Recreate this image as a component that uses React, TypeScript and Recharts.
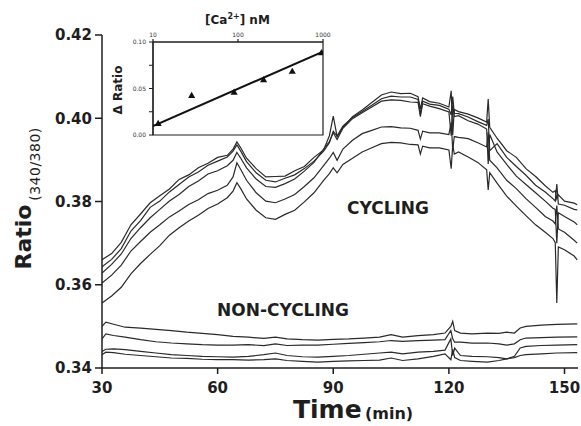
import React from 'react';
import { LineChart, Line, XAxis, YAxis, ComposedChart, Scatter, ZAxis, ReferenceArea } from 'recharts';

// ---------- main chart data ----------
const cycTimes = [30, 32.5, 35, 37.5, 40, 42.5, 45, 47.5, 50, 52.5, 55, 57.5, 60, 62.5, 64, 65, 66, 67.5, 70, 72.5, 75, 77.5, 80, 82.5, 85, 87.5, 89, 90, 91, 92.5, 95, 97.5, 100, 102.5, 105, 107.5, 110, 112, 112.6, 113.2, 115, 117.5, 120, 120.6, 121, 121.4, 122.5, 125, 127.5, 129.8, 130.2, 130.6, 132.5, 135, 137.5, 140, 142.5, 145, 147, 147.6, 148, 148.4, 150, 152.5, 153.3];

const cycA = [.3660, .3675, .3702, .3744, .3770, .3797, .3814, .3830, .3853, .3864, .3881, .3892, .3906, .3911, .3926, .3943, .3929, .3904, .3879, .3859, .3860, .3861, .3874, .3884, .3906, .3924, .3958, .4005, .3956, .3978, .4004, .4020, .4038, .4056, .4063, .4059, .4060, .4052, .4022, .4049, .4040, .4036, .4027, .4066, .3960, .4021, .4016, .4010, .4001, .3991, .4046, .3978, .3952, .3922, .3906, .3879, .3860, .3838, .3822, .3826, .3806, .3816, .3801, .3796, .3792];
const cycB = [.3643, .3661, .3687, .3729, .3754, .3786, .3801, .3823, .3841, .3859, .3871, .3887, .3897, .3907, .3921, .3936, .3921, .3896, .3869, .3851, .3847, .3856, .3864, .3879, .3897, .3921, .3941, .3969, .3957, .3981, .4002, .4016, .4031, .4047, .4053, .4051, .4051, .4045, .4010, .4041, .4034, .4031, .4022, .4008, .4052, .4012, .4011, .4003, .3992, .3983, .3998, .3922, .3939, .3906, .3884, .3863, .3839, .3823, .3807, .3801, .3842, .3794, .3791, .3781, .3780];
const cycC = [.3628, .3649, .3674, .3711, .3737, .3761, .3781, .3801, .3817, .3836, .3849, .3866, .3874, .3886, .3899, .3918, .3904, .3881, .3854, .3836, .3834, .3843, .3854, .3873, .3894, .3926, .3944, .3965, .3949, .3976, .3999, .4013, .4027, .4041, .4044, .4043, .4039, .4038, .4004, .4035, .4029, .4023, .4015, .3958, .4031, .4004, .4006, .3994, .3986, .3974, .3890, .3961, .3919, .3889, .3861, .3841, .3821, .3801, .3784, .3781, .3700, .3773, .3764, .3751, .3744];
const cycD = [.3604, .3623, .3647, .3681, .3704, .3726, .3744, .3763, .3777, .3793, .3804, .3819, .3827, .3839, .3859, .3893, .3877, .3851, .3821, .3801, .3797, .3806, .3817, .3836, .3857, .3886, .3904, .3918, .3899, .3926, .3947, .3963, .3971, .3979, .3980, .3977, .3976, .3971, .3950, .3969, .3965, .3965, .3961, .3990, .3924, .3956, .3954, .3951, .3941, .3931, .3966, .3899, .3881, .3851, .3831, .3807, .3786, .3764, .3753, .3746, .3790, .3734, .3726, .3707, .3700];
const cycE = [.3556, .3573, .3594, .3626, .3651, .3673, .3694, .3719, .3737, .3753, .3767, .3783, .3794, .3809, .3825, .3845, .3831, .3806, .3779, .3761, .3757, .3769, .3779, .3799, .3821, .3851, .3867, .3881, .3869, .3889, .3904, .3919, .3929, .3939, .3942, .3941, .3937, .3936, .3914, .3933, .3929, .3929, .3924, .3879, .3936, .3914, .3919, .3907, .3894, .3876, .3828, .3869, .3844, .3813, .3789, .3766, .3744, .3726, .3711, .3701, .3556, .3691, .3684, .3669, .3660];

const ncTimes = [30, 31, 33, 36, 40, 44, 48, 52, 56, 60, 64, 68, 72, 75, 78, 82, 86, 90, 94, 98, 102, 105, 108, 112, 116, 119, 120.5, 121, 121.5, 123, 126, 130, 133, 135, 137, 138.5, 140, 144, 148, 153.3];
const nc1 = [.3500, .3510, .3505, .3498, .3496, .3493, .3490, .3486, .3483, .3480, .3476, .3474, .3471, .3474, .3470, .3468, .3467, .3469, .3470, .3472, .3474, .3480, .3474, .3478, .3480, .3484, .3500, .3512, .3490, .3484, .3482, .3484, .3483, .3486, .3484, .3496, .3500, .3503, .3505, .3506];
const nc2 = [.3470, .3482, .3478, .3474, .3468, .3463, .3460, .3458, .3456, .3455, .3455, .3456, .3454, .3458, .3454, .3455, .3455, .3457, .3459, .3461, .3463, .3466, .3464, .3466, .3467, .3468, .3490, .3470, .3462, .3462, .3460, .3460, .3458, .3455, .3458, .3468, .3472, .3473, .3474, .3475];
const nc3 = [.3440, .3445, .3446, .3444, .3440, .3436, .3432, .3430, .3428, .3427, .3426, .3428, .3432, .3436, .3430, .3427, .3426, .3428, .3430, .3433, .3436, .3438, .3434, .3438, .3440, .3443, .3470, .3430, .3448, .3430, .3428, .3427, .3425, .3422, .3428, .3448, .3452, .3454, .3455, .3456];
const nc4 = [.3432, .3438, .3437, .3433, .3430, .3427, .3424, .3423, .3421, .3420, .3420, .3419, .3420, .3422, .3418, .3416, .3414, .3416, .3417, .3418, .3419, .3424, .3418, .3422, .3428, .3434, .3420, .3445, .3425, .3418, .3416, .3414, .3418, .3422, .3425, .3430, .3432, .3434, .3436, .3437];

const xTicks = [30, 60, 90, 120, 150];
const yTicks = [0.34, 0.36, 0.38, 0.40, 0.42];

// ---------- inset data ----------
const insetConc = [11.5, 28.5, 90, 200, 435, 960];
const insetDelta = [0.012, 0.042, 0.0455, 0.059, 0.068, 0.088];
const fitConc = [10, 1000];
const fitDelta = [0.0097, 0.0896];
const insetXTicks = [10, 100, 1000];
const insetYTicks = [0, 0.025, 0.05, 0.075, 0.1];
const insetYLabeled = [0, 0.05, 0.1];

const cycRows = cycTimes.map((t, i) => ({ t, a: cycA[i], b: cycB[i], c: cycC[i], d: cycD[i], e: cycE[i] }));
const ncRows = ncTimes.map((t, i) => ({ t, n1: nc1[i], n2: nc2[i], n3: nc3[i], n4: nc4[i] }));
const insetPts = insetConc.map((c, i) => ({ c, d: insetDelta[i] }));
const fitRows = fitConc.map((c, i) => ({ c, fit: fitDelta[i] }));

const FONT = "'DejaVu Sans', sans-serif";
const INK = '#1e1e1e';
const LINE = '#2a2a2a';

const yLabel = () => (
  <g>
    <text x={31} y={237} transform="rotate(-90 31 237)" textAnchor="middle" fontFamily={FONT} fontWeight={700} fontSize={22} fill={INK}>Ratio</text>
    <text x={40} y={164} transform="rotate(-90 40 164)" textAnchor="middle" fontFamily={FONT} fontSize={14} fill={INK} letterSpacing={0.5}>(340/380)</text>
  </g>
);

const xLabel = () => (
  <g>
    <text x={293} y={418} fontFamily={FONT} fontWeight={700} fontSize={25} fill={INK}>Time</text>
    <text x={365} y={419} fontFamily={FONT} fontWeight={700} fontSize={16} fill={INK}>(min)</text>
    <text x={347} y={214} fontFamily={FONT} fontWeight={700} fontSize={17} fill={INK}>CYCLING</text>
    <text x={217} y={316} fontFamily={FONT} fontWeight={700} fontSize={17} fill={INK}>NON-CYCLING</text>
  </g>
);

const insetTitle = () => (
  <text x={100} y={19} fontFamily={FONT} fontWeight={700} fontSize={12} fill={INK}>
    [Ca<tspan dy={-5} fontSize={8}>2+</tspan><tspan dy={5}>] nM</tspan>
  </text>
);

const insetYLabel = () => (
  <text x={17} y={85} transform="rotate(-90 17 85)" textAnchor="middle" fontFamily={FONT} fontWeight={700} fontSize={12} fill={INK}>Δ Ratio</text>
);

const cycKeys = ['a', 'b', 'c', 'd', 'e'];
const ncKeys = ['n1', 'n2', 'n3', 'n4'];

export default function App() {
  return (
    <div style={{ position: 'fixed', left: 0, top: 0, width: 581, height: 426, background: '#fff' }}>
      <LineChart width={581} height={426} margin={{ top: 35, right: 3, left: 42, bottom: 28 }}>
        <XAxis
          dataKey="t"
          type="number"
          domain={[30, 153.5]}
          ticks={xTicks}
          allowDataOverflow
          height={30}
          axisLine={{ stroke: INK, strokeWidth: 1.5 }}
          tickLine={{ stroke: INK, strokeWidth: 1.5 }}
          tickSize={6}
          tickMargin={8}
          tick={{ fontFamily: FONT, fontWeight: 700, fontSize: 15, fill: INK }}
          label={xLabel}
        />
        <YAxis
          type="number"
          domain={[0.34, 0.42]}
          ticks={yTicks}
          allowDataOverflow
          width={60}
          tickFormatter={(v: number) => v.toFixed(2)}
          axisLine={{ stroke: INK, strokeWidth: 1.5 }}
          tickLine={{ stroke: INK, strokeWidth: 1.5 }}
          tickSize={7}
          tickMargin={3}
          tick={{ fontFamily: FONT, fontWeight: 700, fontSize: 15, fill: INK }}
          label={yLabel}
        />
        {cycKeys.map((k) => (
          <Line key={k} data={cycRows} dataKey={k} type="linear" stroke={LINE} strokeWidth={1.2} dot={false} isAnimationActive={false} />
        ))}
        {ncKeys.map((k) => (
          <Line key={k} data={ncRows} dataKey={k} type="linear" stroke={LINE} strokeWidth={1.2} dot={false} isAnimationActive={false} />
        ))}
      </LineChart>
      <div style={{ position: 'absolute', left: 105, top: 5 }}>
        <ComposedChart width={230} height={140} data={fitRows} margin={{ top: 17, right: 12, left: 18, bottom: 10 }}>
          <XAxis
            dataKey="c"
            type="number"
            scale="log"
            domain={[10, 1000]}
            ticks={insetXTicks}
            allowDataOverflow
            orientation="top"
            height={20}
            axisLine={{ stroke: INK, strokeWidth: 1.2 }}
            tickLine={{ stroke: INK, strokeWidth: 1.2 }}
            tickSize={3}
            tickMargin={2}
            tick={{ fontFamily: FONT, fontSize: 6, fill: '#333' }}
            label={insetTitle}
          />
          <YAxis
            type="number"
            domain={[0, 0.1]}
            ticks={insetYTicks}
            allowDataOverflow
            width={30}
            tickFormatter={(v: number) => (insetYLabeled.some((l) => Math.abs(l - v) < 1e-9) ? v.toFixed(2) : '')}
            axisLine={{ stroke: INK, strokeWidth: 1.2 }}
            tickLine={{ stroke: INK, strokeWidth: 1 }}
            tickSize={4}
            tickMargin={3}
            tick={{ fontFamily: FONT, fontSize: 6, fill: '#333' }}
            label={insetYLabel}
          />
          <ZAxis range={[22, 22]} />
          <ReferenceArea x1={10} x2={1000} y1={0} y2={0.1} fill="none" stroke={INK} strokeWidth={1.2} />
          <Line dataKey="fit" type="linear" stroke="#111" strokeWidth={2} dot={false} isAnimationActive={false} />
          <Scatter data={insetPts} dataKey="d" shape="triangle" fill="#111" isAnimationActive={false} />
        </ComposedChart>
      </div>
    </div>
  );
}
